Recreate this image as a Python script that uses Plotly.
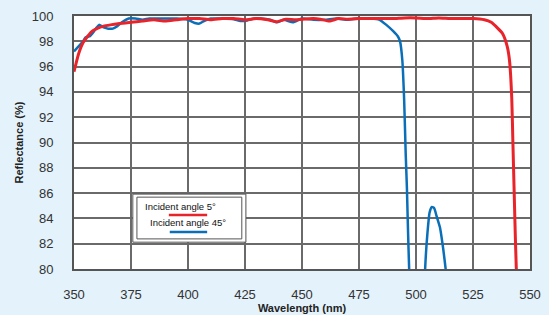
import plotly.graph_objects as go

# Incident angle 5 deg (red)
wl_5 = [350, 352, 354, 356, 358, 360, 363, 366, 370, 375, 380, 385, 390, 395, 400, 405,
        410, 415, 420, 425, 430, 435, 439, 443, 447, 450, 455, 458, 462, 466, 470, 475,
        480, 485, 490, 495, 500, 505, 510, 515, 520, 525, 530, 533, 536, 538, 540, 541,
        542, 542.5, 543, 543.5, 544, 544.5]
r_5 = [95.6, 97.0, 97.9, 98.4, 98.8, 99.0, 99.2, 99.3, 99.4, 99.5, 99.6, 99.7, 99.6, 99.7, 99.8, 99.8,
       99.7, 99.8, 99.8, 99.7, 99.8, 99.7, 99.55, 99.75, 99.7, 99.75, 99.8, 99.75, 99.6, 99.8, 99.75, 99.8,
       99.8, 99.8, 99.8, 99.85, 99.85, 99.8, 99.85, 99.8, 99.8, 99.8, 99.7, 99.5, 99.0, 98.6, 97.6, 96.5,
       93.5, 90.0, 86.5, 83.0, 80.0, 78.0]

# Incident angle 45 deg (blue)
wl_45 = [350, 352, 354, 355, 357, 358, 360, 361, 363, 365, 367, 369, 371, 374, 377, 380,
         383, 386, 390, 395, 400, 403, 405, 407, 410, 415, 420, 423, 426, 429, 432, 436,
         439, 442, 446, 450, 455, 460, 465, 470, 475, 480, 484, 487, 490, 492, 493, 494,
         494.8, 495.5, 496, 496.5, 497, 497.5, 500, 503, 504, 505, 506, 507, 508, 509,
         510.5, 512, 513, 514]
r_45 = [97.2, 97.6, 98.0, 98.3, 98.4, 98.6, 99.1, 99.3, 99.1, 99.0, 99.0, 99.2, 99.5, 99.8, 99.8, 99.7,
        99.8, 99.8, 99.8, 99.8, 99.7, 99.45, 99.4, 99.6, 99.8, 99.8, 99.75, 99.6, 99.65, 99.8, 99.8, 99.7,
        99.5, 99.7, 99.5, 99.8, 99.7, 99.7, 99.8, 99.7, 99.8, 99.8, 99.7, 99.3, 98.8, 98.4, 98.0, 96.5,
        93.4, 89.0, 86.5, 83.0, 80.0, 78.0, 70.0, 74.0, 80.0, 82.8, 84.5, 84.9, 84.8, 84.2,
        83.3, 81.5, 80.0, 78.0]

x_ticks = [350, 375, 400, 425, 450, 475, 500, 525, 550]
y_ticks = [80, 82, 84, 86, 88, 90, 92, 94, 96, 98, 100]

legend_labels = ["Incident angle 5°", "Incident angle 45°"]
colors = ["#e8232a", "#0a6fb8"]

fig = go.Figure()
fig.add_trace(go.Scatter(x=wl_45, y=r_45, mode="lines", name=legend_labels[1],
                         line=dict(color=colors[1], width=2.5, shape="spline", smoothing=0.5)))
fig.add_trace(go.Scatter(x=wl_5, y=r_5, mode="lines", name=legend_labels[0],
                         line=dict(color=colors[0], width=3, shape="spline", smoothing=0.5)))

tickfont = dict(family="Liberation Sans, Arial, sans-serif", size=13, color="#333333")
fig.update_xaxes(range=[350, 550], tickvals=x_ticks, showgrid=True, gridcolor="#6a6a6a",
                 gridwidth=1.5, zeroline=False, showline=True, linecolor="#555555", linewidth=2,
                 mirror=True, ticks="outside", ticklen=12, tickcolor="rgba(0,0,0,0)",
                 tickfont=tickfont, automargin=False,
                 title=dict(text="Wavelength (nm)", standoff=2,
                            font=dict(family="Liberation Sans, Arial, sans-serif", size=11, color="#222222", weight="bold")))
fig.update_yaxes(range=[80, 100], tickvals=y_ticks, showgrid=True, gridcolor="#6a6a6a",
                 gridwidth=1.5, zeroline=False, showline=True, linecolor="#555555", linewidth=2,
                 mirror=True, ticks="outside", ticklen=16, tickcolor="rgba(0,0,0,0)",
                 tickfont=tickfont, automargin=False,
                 title=dict(text="Reflectance (%)", standoff=6,
                            font=dict(family="Liberation Sans, Arial, sans-serif", size=11, color="#222222", weight="bold")))

# Custom legend box (double border) with lines beneath labels
fig.add_shape(type="rect", xref="paper", yref="paper", x0=0.129, x1=0.377, y0=0.106, y1=0.296,
              line=dict(color="#555555", width=1), fillcolor="white", layer="above")
fig.add_shape(type="rect", xref="paper", yref="paper", x0=0.138, x1=0.368, y0=0.119, y1=0.284,
              line=dict(color="#555555", width=1), layer="above")
legend_font = dict(family="Liberation Sans Narrow, Arial Narrow, sans-serif", size=9.5, color="#111111")
fig.add_annotation(xref="paper", yref="paper", x=0.2336, y=0.247, xanchor="center", yanchor="middle",
                   text=legend_labels[0], showarrow=False, font=legend_font)
fig.add_annotation(xref="paper", yref="paper", x=0.249, y=0.182, xanchor="center", yanchor="middle",
                   text=legend_labels[1], showarrow=False, font=legend_font)
fig.add_shape(type="line", xref="paper", yref="paper", x0=0.208, x1=0.292, y0=0.213, y1=0.213,
              line=dict(color=colors[0], width=2.5), layer="above")
fig.add_shape(type="line", xref="paper", yref="paper", x0=0.21, x1=0.292, y0=0.146, y1=0.146,
              line=dict(color=colors[1], width=2.5), layer="above")

fig.update_layout(width=549, height=315, margin=dict(l=74, r=19, t=16, b=46),
                  paper_bgcolor="#e3f2fb", plot_bgcolor="white", showlegend=False)

fig.write_html("out.html", config={"displayModeBar": False},
               post_script="document.body.style.margin='0';document.body.style.background='#e3f2fb';")
